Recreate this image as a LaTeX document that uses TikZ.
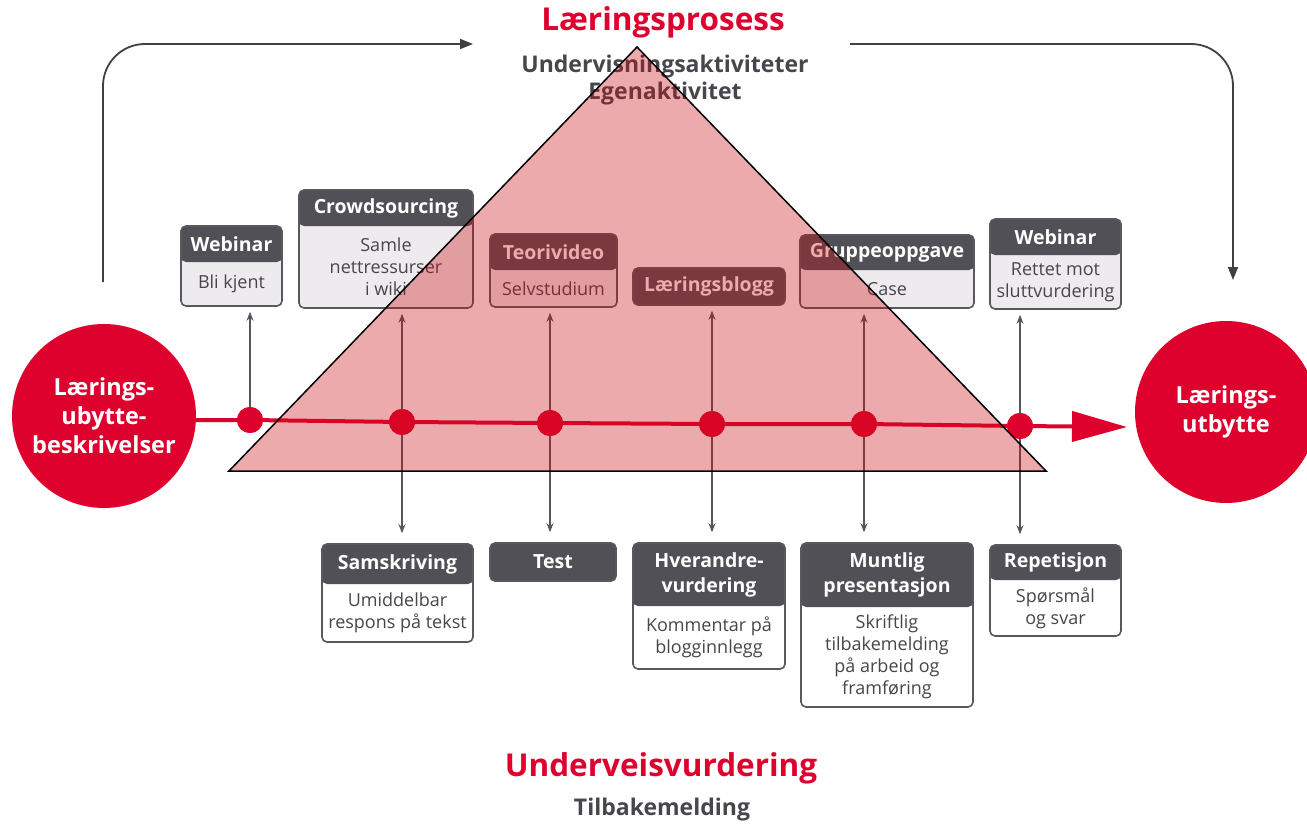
\documentclass[tikz,border=0pt]{standalone}
\usepackage{fontspec}
\setmainfont{Open Sans}
\usetikzlibrary{arrows.meta,fit}
\definecolor{redc}{RGB}{222,0,45}
\definecolor{hdrc}{RGB}{80,80,86}
\definecolor{bodyg}{RGB}{237,235,237}
\definecolor{txtc}{RGB}{70,70,76}
\definecolor{brdc}{RGB}{88,88,94}
\definecolor{trifill}{RGB}{204,12,18}
\definecolor{arrc}{RGB}{85,85,92}
\tikzset{
  boxs/.style={draw=brdc, line width=1.6pt, rounded corners=5pt, inner sep=0pt},
  hdrtext/.style={text=white, font=\fontsize{19.5}{25}\selectfont\bfseries, align=center, inner sep=0pt},
  bodytext/.style={text=txtc, font=\fontsize{18}{22}\selectfont, align=center, inner sep=0pt},
  dot/.style={circle, fill=redc, minimum size=26pt, inner sep=0pt},
  bigc/.style={circle, fill=redc, text=white, align=center, inner sep=0pt,
     font=\fontsize{23.5}{29}\selectfont\bfseries},
  garrow/.style={draw=arrc, line width=1.4pt, -{Stealth[length=9pt,width=7pt]}},
  garrows/.style={draw=arrc, line width=1.4pt, {Stealth[length=9pt,width=7pt]}-{Stealth[length=9pt,width=7pt]}},
  redline/.style={draw=redc, line width=4pt},
  toparrow/.style={draw=black!75, line width=1.8pt, rounded corners=42pt},
  tri/.style={draw=black, line width=1.5pt, fill=trifill, fill opacity=0.35, draw opacity=1},
  title/.style={text=redc, font=\fontsize{31.5}{34}\selectfont\bfseries, inner sep=0pt},
  subtitle/.style={text=txtc, font=\fontsize{23}{27}\selectfont\bfseries, align=center, inner sep=0pt}
}
% name, x1, x2, ytop, ymid, ybot, header, body, body fill
\newcommand\mybox[9]{%
  \node[boxs, fill=#9, fit={(#2,#4) (#3,#6)},
    path picture={\fill[hdrc] (path picture bounding box.north west) rectangle ([yshift={-(#5-#4)*1pt}]path picture bounding box.north east);}] (#1) {};
  \node[hdrtext] (#1h) at ({(#2+#3)/2},{(#4+#5)/2}) {#7};
  \node[bodytext] (#1b) at ({(#2+#3)/2},{(#5+#6)/2}) {#8};
}
% name, x1, x2, ytop, ybot, text
\newcommand\mytag[6]{%
  \node[boxs, fill=hdrc, fit={(#2,#4) (#3,#5)}] (#1) {};
  \node[hdrtext] (#1h) at ({(#2+#3)/2},{(#4+#5)/2}) {#6};
}
\begin{document}
\begin{tikzpicture}[x=1pt,y=-1pt]
\useasboundingbox (0,0) rectangle (1307,824);

% titles
\node[title] (t1) at (663,22) {Læringsprosess};
\node[subtitle] (t2) at (665,80) {Undervisningsaktiviteter\\Egenaktivitet};
\node[title] (t3) at (661,768) {Underveisvurdering};
\node[subtitle] (t4) at (662,810) {Tilbakemelding};

% circles
\node[bigc, minimum size=184pt] (L) at (104,416) {Lærings-\\ubytte-\\beskrivelser};
\node[bigc, minimum size=182pt] (R) at (1226,412) {Lærings-\\utbytte};

% top boxes
\mybox{ta}{181}{282}{226}{262}{306}{Webinar}{Bli kjent}{bodyg}
\mybox{tb}{299}{473}{190}{226}{308}{Crowdsourcing}{Samle\\nettressurser\\i wiki}{bodyg}
\mybox{tc}{490}{617}{234}{270}{307}{Teorivideo}{Selvstudium}{bodyg}
\mytag{td}{633}{785}{268}{305}{Læringsblogg}
\mybox{te}{800}{974}{235}{270}{308}{Gruppeoppgave}{Case}{bodyg}
\mybox{tf}{990}{1121}{219}{255}{309}{Webinar}{Rettet mot\\sluttvurdering}{bodyg}

% bottom boxes
\mybox{ba}{322}{473}{544}{584}{642}{Samskriving}{Umiddelbar\\respons på tekst}{white}
\mytag{bb}{490}{616}{543}{581}{Test}
\mybox{bc}{633}{785}{543}{606}{669}{Hverandre-\\vurdering}{Kommentar på\\blogginnlegg}{white}
\mybox{bd}{801}{973}{543}{607}{707}{Muntlig\\presentasjon}{Skriftlig\\tilbakemelding\\på arbeid og\\framføring}{white}
\mybox{be}{990}{1121}{545}{580}{636}{Repetisjon}{Spørsmål\\og svar}{white}

% dots
\node[dot] (d1) at (250,420) {};
\node[dot] (d2) at (402,422) {};
\node[dot] (d3) at (550,423) {};
\node[dot] (d4) at (712,424) {};
\node[dot] (d5) at (864,424) {};
\node[dot] (d6) at (1020,426) {};
\coordinate (tip) at (1127,427);

% gray arrows
\draw[garrow, shorten >=5pt] (d1.center) -- (d1 |- ta.south);
\draw[garrows, shorten >=10pt, shorten <=5pt] (d2 |- tb.south) -- (d2 |- ba.north);
\draw[garrows, shorten >=10pt, shorten <=5pt] (d3 |- tc.south) -- (d3 |- bb.north);
\draw[garrows, shorten >=10pt, shorten <=5pt] (d4 |- td.south) -- (d4 |- bc.north);
\draw[garrows, shorten >=10pt, shorten <=5pt] (d5 |- te.south) -- (d5 |- bd.north);
\draw[garrows, shorten >=10pt, shorten <=5pt] (d6 |- tf.south) -- (d6 |- be.north);

% red line
\draw[redline, -{Triangle[length=55pt,width=30pt]}] (L.east |- d1) -- (d1.center) -- (d2.center) -- (d3.center) -- (d4.center) -- (d5.center) -- (d6.center) -- (tip);
\foreach \d in {d1,d2,d3,d4,d5,d6} \node[dot] at (\d) {};

% top curved arrows
\coordinate (a1) at (103,282);
\coordinate (a2) at (473,44);
\coordinate (a3) at (850,44);
\coordinate (a4) at (1233,280);
\draw[toparrow, -{Triangle[length=13pt,width=10pt]}] (a1) -- (a1 |- a2) -- (a2);
\draw[toparrow, -{Triangle[length=13pt,width=10pt]}] (a3) -- (a4 |- a3) -- (a4);

% triangle overlay
\draw[tri] (637,47) -- (1046,471) -- (229,471) -- cycle;
\end{tikzpicture}
\end{document}
